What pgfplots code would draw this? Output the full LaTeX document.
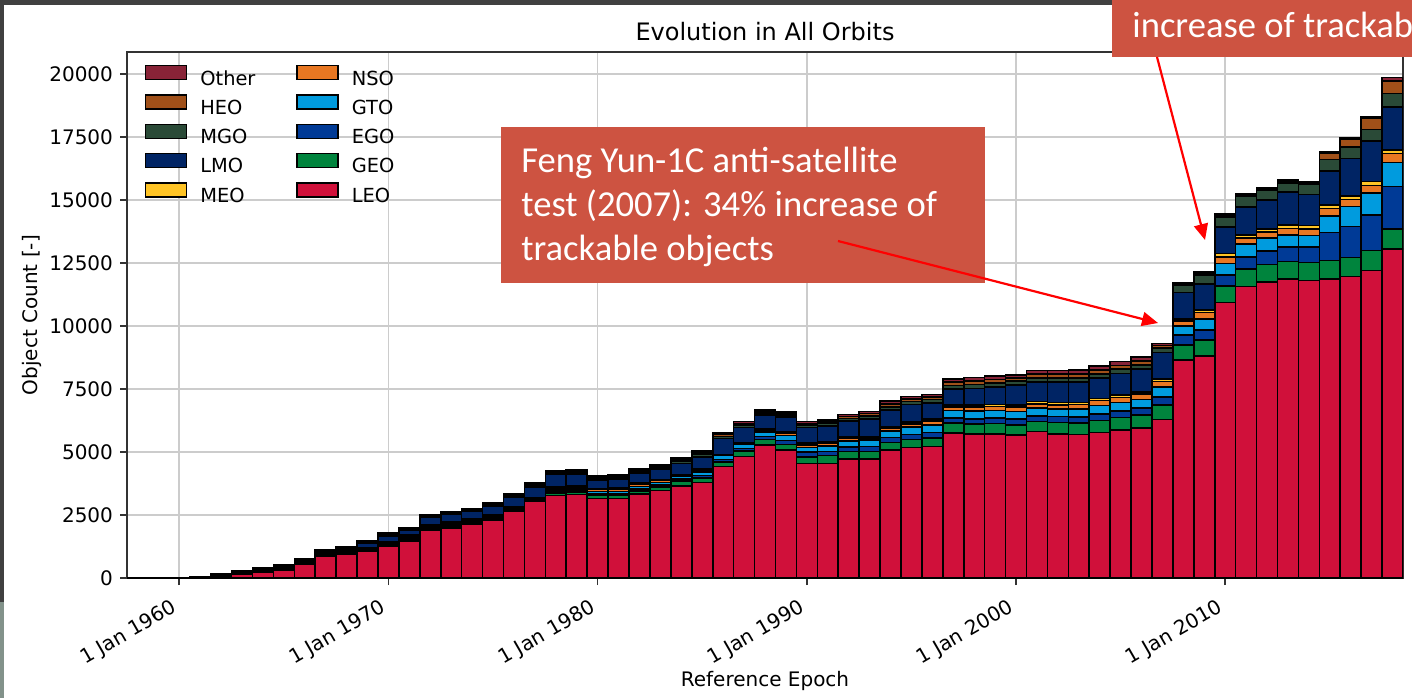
\documentclass[border=0pt]{standalone}
\usepackage{fontspec}
\setmainfont{DejaVu Sans}
\newfontfamily\calib{Carlito}
\usepackage{pgfplots}
\usepackage{pgfplotstable}
\pgfplotsset{compat=1.18}
\usetikzlibrary{arrows.meta}
\definecolor{cLEO}{RGB}{208,16,58}
\definecolor{cGEO}{RGB}{0,132,61}
\definecolor{cEGO}{RGB}{0,58,150}
\definecolor{cGTO}{RGB}{0,155,222}
\definecolor{cNSO}{RGB}{232,119,34}
\definecolor{cMEO}{RGB}{255,196,37}
\definecolor{cLMO}{RGB}{0,36,100}
\definecolor{cMGO}{RGB}{42,74,55}
\definecolor{cHEO}{RGB}{160,80,25}
\definecolor{cOther}{RGB}{136,35,55}
\definecolor{boxcol}{RGB}{205,83,65}
\definecolor{frame}{RGB}{64,64,64}
\definecolor{framegreen}{RGB}{130,146,138}
\newcommand\tickfont{\fontsize{10pt}{12pt}\selectfont}
\pgfplotstableread{
year LEO GEO EGO GTO NSO MEO LMO MGO HEO Other
1958 3 0 0 0 0 0 0 0 0 0
1959 8 0 0 0 0 0 0 0 0 0
1960 10 0 0 0 0 0 0 0 0 5
1961 20 0 0 0 0 0 5 5 5 5
1962 50 5 5 5 8 5 25 20 18 18
1963 159 8 8 8 12 8 30 22 20 15
1964 250 12 12 10 15 10 40 28 25 22
1965 317 15 15 12 20 12 45 30 27 23
1966 555 15 15 15 20 15 50 30 28 24
1967 846 25 25 20 30 20 70 35 35 31
1968 939 25 25 20 30 25 70 40 35 34
1969 1045 27 27 25 30 26 198 38 35 30
1970 1243 40 40 35 45 38 226 40 35 32
1971 1480 45 45 40 50 46 200 35 30 26
1972 1880 50 50 45 55 50 280 35 30 25
1973 1995 45 45 45 55 48 290 40 33 30
1974 2130 45 45 45 55 48 290 40 35 32
1975 2300 40 35 40 45 38 357 50 45 36
1976 2670 35 30 30 35 29 397 50 45 40
1977 3030 35 25 25 30 20 436 60 50 49
1978 3270 90 60 70 80 57 490 60 45 38
1979 3320 90 60 70 70 40 465 80 60 58
1980 3160 110 70 90 80 47 330 70 55 45
1981 3160 115 70 95 80 47 360 70 55 45
1982 3333 130 70 100 80 45 390 70 55 45
1983 3465 150 75 105 75 45 410 70 55 47
1984 3650 198 80 99 35 25 464 90 70 62
1985 3796 170 99 139 80 59 468 100 70 68
1986 4418 186 99 159 20 10 640 90 70 62
1987 4814 226 99 159 30 18 619 100 70 68
1988 5277 218 120 178 85 54 536 80 60 58
1989 5079 218 160 198 85 55 583 90 70 62
1990 4550 250 200 180 100 65 620 100 70 70
1991 4550 310 160 220 100 60 635 100 60 65
1992 4722 290 186 250 80 60 635 100 80 92
1993 4722 300 190 260 80 60 700 110 100 91
1994 5079 300 200 250 120 60 650 130 120 114
1995 5171 330 200 300 120 60 700 120 100 94
1996 5220 330 230 300 150 70 650 130 110 98
1997 5760 380 200 300 150 80 636 140 130 124
1998 5710 400 210 300 160 80 660 150 140 140
1999 5710 420 210 310 160 80 700 150 140 135
2000 5670 410 230 290 180 90 790 150 120 125
2001 5806 400 230 300 170 90 780 160 150 140
2002 5710 460 240 290 170 90 820 160 150 136
2003 5700 460 240 300 180 90 800 170 160 155
2004 5766 490 260 330 190 90 800 170 160 156
2005 5873 490 270 330 200 90 860 170 150 150
2006 5940 520 280 350 210 90 900 170 160 150
2007 6297 560 330 380 230 100 1050 180 100 85
2008 8650 595 397 357 200 80 1056 293 60 44
2009 8820 624 397 424 262 107 1032 357 70 62
2010 10925 660 436 463 260 137 1056 385 70 65
2011 11560 690 476 516 238 132 1097 423 60 46
2012 11733 713 529 504 238 119 1162 396 50 42
2013 11852 700 570 488 264 132 1320 356 60 46
2014 11799 713 610 461 264 132 1245 396 60 46
2015 11852 740 1111 661 304 132 1360 449 238 66
2016 11957 767 1217 793 290 132 1492 462 290 66
2017 12195 793 1416 860 317 145 1624 449 436 66
2018 13043 806 1678 952 370 132 1716 528 502 132
}\orbdata
\begin{document}
\begin{tikzpicture}
\fill[white] (0,0) rectangle (706pt,349pt);
\begin{axis}[
  at={(63.5pt,60pt)}, anchor=south west,
  scale only axis, width=638pt, height=263pt,
  xmin=1957.5, xmax=2018.5, ymin=0, ymax=20870,
  ybar stacked, bar width=1,
  every axis plot post/.append style={legend image code/.code={%
     \draw[##1, draw=black, line width=0.7pt] (0pt,0pt) rectangle (20.5pt,7pt);}},
  xtick={1960,1970,1980,1990,2000,2010},
  xticklabels={{1 Jan 1960},{1 Jan 1970},{1 Jan 1980},{1 Jan 1990},{1 Jan 2000},{1 Jan 2010}},
  ytick={0,2500,5000,7500,10000,12500,15000,17500,20000},
  yticklabels={0,2500,5000,7500,10000,12500,15000,17500,20000},
  scaled y ticks=false,
  xticklabel style={font=\tickfont, xshift=-4pt, yshift=-5pt, rotate=30, anchor=north east, inner sep=1pt},
  yticklabel style={font=\tickfont},
  axis line style={line width=0.9pt, black!80},
  tick style={line width=0.8pt, black!80},
  tick align=outside, major tick length=3.5pt,
  xtick pos=bottom, ytick pos=left,
  grid=major, major grid style={line width=0.8pt, black!20},
  title={Evolution in All Orbits},
  title style={at={(axis description cs:0.5,0.999)}, anchor=base, font=\fontsize{12pt}{14pt}\selectfont},
  xlabel={Reference Epoch},
  xlabel style={at={(axis description cs:0.5,-0.2053)}, anchor=base, font=\fontsize{10pt}{12pt}\selectfont},
  ylabel={Object Count [-]},
  ylabel style={at={(axis description cs:-0.0744,0.5)}, anchor=center, font=\fontsize{10pt}{12pt}\selectfont},
  legend columns=2,
  legend cell align=left,
  legend style={draw=none, fill=none, at={(0.0141,0.9753)}, anchor=north west, inner sep=0pt, outer sep=0pt,
    font=\fontsize{9.7pt}{11pt}\selectfont, column sep=6.5pt, row sep=2.8pt,
    /tikz/every even column/.append style={column sep=20.5pt},
    nodes={inner sep=0pt, text height=7.2pt, text depth=1.8pt}},
]
\addplot[fill=cLEO, draw=black, line width=0.8pt, forget plot] table[x=year,y=LEO]{\orbdata};
\addplot[fill=cGEO, draw=black, line width=0.8pt, forget plot] table[x=year,y=GEO]{\orbdata};
\addplot[fill=cEGO, draw=black, line width=0.8pt, forget plot] table[x=year,y=EGO]{\orbdata};
\addplot[fill=cGTO, draw=black, line width=0.8pt, forget plot] table[x=year,y=GTO]{\orbdata};
\addplot[fill=cNSO, draw=black, line width=0.8pt, forget plot] table[x=year,y=NSO]{\orbdata};
\addplot[fill=cMEO, draw=black, line width=0.8pt, forget plot] table[x=year,y=MEO]{\orbdata};
\addplot[fill=cLMO, draw=black, line width=0.8pt, forget plot] table[x=year,y=LMO]{\orbdata};
\addplot[fill=cMGO, draw=black, line width=0.8pt, forget plot] table[x=year,y=MGO]{\orbdata};
\addplot[fill=cHEO, draw=black, line width=0.8pt, forget plot] table[x=year,y=HEO]{\orbdata};
\addplot[fill=cOther, draw=black, line width=0.8pt, forget plot] table[x=year,y=Other]{\orbdata};
\addlegendimage{fill=cOther}\addlegendentry{Other}
\addlegendimage{fill=cNSO}\addlegendentry{NSO}
\addlegendimage{fill=cHEO}\addlegendentry{HEO}
\addlegendimage{fill=cGTO}\addlegendentry{GTO}
\addlegendimage{fill=cMGO}\addlegendentry{MGO}
\addlegendimage{fill=cEGO}\addlegendentry{EGO}
\addlegendimage{fill=cLMO}\addlegendentry{LMO}
\addlegendimage{fill=cGEO}\addlegendentry{GEO}
\addlegendimage{fill=cMEO}\addlegendentry{MEO}
\addlegendimage{fill=cLEO}\addlegendentry{LEO}
\end{axis}
% annotation boxes
\fill[boxcol] (250.5pt,207.5pt) rectangle (492.5pt,285.5pt);
\begin{scope}[every node/.style={anchor=base west, inner sep=0pt, text=white, font=\calib\fontsize{18.3pt}{22.3pt}\selectfont}]
\node at (260.5pt,262.65pt) {Feng Yun-1C anti-satellite};
\node at (260.5pt,240.65pt) {test (2007): 34\% increase of};
\node at (260.5pt,218.65pt) {trackable objects};
\fill[boxcol] (556pt,320.5pt) rectangle (720pt,360pt);
\node at (566pt,330.5pt) {increase of trackable objects};
\end{scope}
\draw[red, line width=1.1pt, -{Triangle[length=8pt,width=7pt]}] (419pt,228.5pt) -- (579pt,187.5pt);
\draw[red, line width=1.1pt, -{Triangle[length=8pt,width=7pt]}] (578.5pt,320.5pt) -- (602.5pt,229pt);
% frame strips
\fill[frame] (0pt,346.5pt) rectangle (556pt,349pt);
\fill[frame] (0pt,48pt) rectangle (2pt,349pt);
\fill[framegreen] (0pt,0pt) rectangle (2pt,48pt);
\pgfresetboundingbox
\useasboundingbox (0,0) rectangle (706pt,349pt);
\end{tikzpicture}
\end{document}
